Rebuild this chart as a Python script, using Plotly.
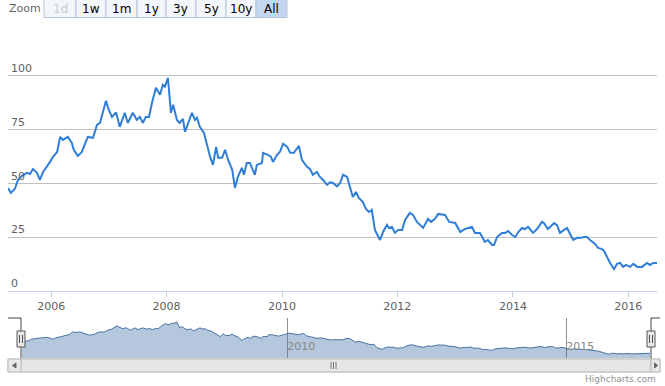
import plotly.graph_objects as go

# ---- data ----
dates = [
 "2005-04-03","2005-04-21","2005-05-16","2005-06-05","2005-06-30","2005-08-01","2005-08-20","2005-09-08",
 "2005-10-03","2005-10-22","2005-11-11","2005-12-06","2005-12-25","2006-01-13","2006-02-08","2006-02-27",
 "2006-03-16","2006-04-17","2006-05-12","2006-05-24","2006-06-19","2006-07-14","2006-08-03","2006-08-21",
 "2006-09-23","2006-10-18","2006-11-06","2006-12-14","2006-12-27","2007-01-21","2007-02-16","2007-03-11",
 "2007-04-12","2007-05-01","2007-06-02","2007-06-27","2007-07-16","2007-08-05","2007-08-23","2007-09-12",
 "2007-10-01","2007-10-26","2007-11-21","2007-12-09","2007-12-22","2008-01-10","2008-01-29","2008-02-12",
 "2008-03-07","2008-03-25","2008-04-14","2008-04-27","2008-06-10","2008-06-29","2008-07-12","2008-07-30",
 "2008-08-25","2008-09-20","2008-10-03","2008-10-21","2008-11-10","2008-11-23","2008-12-18","2009-01-06",
 "2009-01-25","2009-02-20","2009-03-09","2009-03-28","2009-04-22","2009-05-05","2009-05-23","2009-06-12",
 "2009-07-13","2009-07-26","2009-08-27","2009-09-03","2009-10-04","2009-10-23","2009-11-05","2009-12-01",
 "2009-12-19","2010-01-08","2010-02-03","2010-02-22","2010-03-17","2010-04-18","2010-05-07","2010-06-08",
 "2010-06-27","2010-07-15","2010-08-10","2010-08-29","2010-09-18","2010-10-13","2010-11-01","2010-11-20",
 "2010-12-15","2011-01-04","2011-01-22","2011-02-17","2011-03-06","2011-03-25","2011-04-14","2011-05-02",
 "2011-05-27","2011-06-16","2011-07-05","2011-07-23","2011-08-12","2011-09-13","2011-10-02","2011-10-27",
 "2011-11-09","2011-11-28","2011-12-17","2012-01-06","2012-01-31","2012-02-19","2012-03-20","2012-04-09",
 "2012-05-04","2012-06-12","2012-07-13","2012-08-01","2012-08-26","2012-09-15","2012-10-29","2012-11-24",
 "2013-01-01","2013-02-02","2013-03-04","2013-04-17","2013-05-06","2013-06-07","2013-07-08","2013-07-27",
 "2013-08-22","2013-09-04","2013-09-23","2013-10-24","2013-11-13","2013-12-02","2013-12-27","2014-01-16",
 "2014-02-04","2014-02-28","2014-03-18","2014-04-07","2014-05-08","2014-06-03","2014-07-04","2014-07-16",
 "2014-08-11","2014-09-19","2014-10-08","2014-10-26","2014-11-21","2014-12-10","2014-12-29","2015-01-18",
 "2015-02-12","2015-03-08","2015-03-26","2015-04-15","2015-05-10","2015-06-05","2015-06-24","2015-07-19",
 "2015-08-01","2015-08-20","2015-09-08","2015-10-03","2015-10-22","2015-11-11","2015-11-29","2015-12-18",
 "2016-01-13","2016-02-02","2016-02-27","2016-03-28","2016-04-29","2016-05-18","2016-06-07","2016-07-01",
]
values = [
 47.9,45.6,47.4,51.6,53.5,54.9,54.4,56.7,
 54.9,51.6,55.3,57.7,60.0,62.3,64.6,71.6,
 70.2,71.6,68.8,65.6,62.8,64.6,67.9,71.6,
 71.2,77.2,78.1,88.4,85.1,80.9,83.0,76.3,
 82.8,78.1,82.8,79.5,80.9,78.1,80.9,80.9,
 87.4,94.4,91.2,95.8,94.9,99.1,82.8,86.5,
 79.5,78.1,80.0,74.0,82.8,79.5,80.5,76.3,
 73.5,65.6,62.3,58.6,67.0,61.9,61.9,65.6,
 60.9,56.3,47.9,53.0,57.2,54.0,59.5,59.5,
 54.0,58.6,59.5,64.2,63.3,62.3,60.0,63.3,
 64.7,68.4,67.0,64.2,64.2,67.4,60.9,57.7,
 56.7,54.0,55.3,53.0,51.6,49.3,50.5,50.2,
 48.6,50.2,54.0,53.0,48.4,43.7,46.0,43.3,
 41.4,38.1,36.7,37.7,28.4,23.7,27.4,30.7,
 29.3,29.8,27.0,28.4,28.4,33.0,36.3,35.3,
 32.1,29.3,33.5,32.1,33.5,35.8,35.3,32.1,
 31.6,27.4,28.8,29.8,27.0,27.0,22.8,23.7,
 21.4,21.4,25.1,27.0,27.0,27.9,26.0,25.1,
 27.4,29.3,28.8,29.8,27.0,28.8,32.1,31.6,
 28.8,31.6,30.5,27.0,28.4,29.3,26.5,23.7,
 24.7,24.7,25.1,25.1,23.3,21.9,20.0,19.5,
 18.6,15.8,13.0,10.2,12.6,13.0,11.2,12.1,
 11.2,12.6,11.2,11.2,13.0,12.1,13.0,13.0,
]
y_ticks = [0, 25, 50, 75, 100, 125]
y_tick_labels = ["0", "25", "50", "75", "100", ""]
x_tick_dates = ["2006-01-01", "2008-01-01", "2010-01-01", "2012-01-01", "2014-01-01", "2016-01-01"]
x_tick_labels = ["2006", "2008", "2010", "2012", "2014", "2016"]
nav_tick_dates = ["2010-01-01", "2015-01-01"]
nav_tick_labels = ["2010", "2015"]
zoom_buttons = ["1d", "1w", "1m", "1y", "3y", "5y", "10y", "All"]

W, H = 665, 386
def px(x): return x / W
def py(y): return (H - y) / H

FONT = "DejaVu Sans"
LINE = "#2f7ed8"

fig = go.Figure()
fig.add_trace(go.Scatter(x=dates, y=values, mode="lines", line=dict(color=LINE, width=2),
                         xaxis="x", yaxis="y", hoverinfo="skip", showlegend=False))
fig.add_trace(go.Scatter(x=dates, y=values, mode="lines", line=dict(color="#4572A7", width=1),
                         fill="tozeroy", fillcolor="rgba(69,114,167,0.4)",
                         xaxis="x2", yaxis="y2", hoverinfo="skip", showlegend=False))

xr = [dates[0], dates[-1]]
fig.update_layout(
    width=W, height=H, autosize=False,
    margin=dict(l=0, r=0, t=0, b=0),
    paper_bgcolor="white", plot_bgcolor="white",
    font=dict(family=FONT, size=11, color="#606060"),
    showlegend=False,
    xaxis=dict(domain=[px(8), px(657)], range=xr, type="date",
               tickvals=x_tick_dates, ticktext=x_tick_labels,
               showgrid=False, zeroline=False,
               showline=True, linecolor="#C0D0E0", linewidth=1,
               ticks="outside", ticklen=5, tickcolor="#C0D0E0",
               tickfont=dict(family=FONT, size=11, color="#606060"),
               anchor="y"),
    yaxis=dict(domain=[py(291), py(22)], range=[0, 125],
               tickvals=y_ticks, ticktext=y_tick_labels,
               showgrid=True, gridcolor="#C0C0C0", gridwidth=1,
               zeroline=False, showline=False, ticks="",
               ticklabelposition="inside top",
               tickfont=dict(family=FONT, size=11, color="#606060"),
               anchor="x"),
    xaxis2=dict(domain=[px(22), px(650)], range=xr, type="date",
                tickvals=nav_tick_dates, ticktext=nav_tick_labels,
                showgrid=True, gridcolor="#909090", gridwidth=1,
                zeroline=False, showline=False, ticks="",
                ticklabelposition="inside right",
                tickfont=dict(family=FONT, size=11, color="#888888"),
                anchor="y2"),
    yaxis2=dict(domain=[py(358), py(318)], range=[0, 110],
                showgrid=False, zeroline=False, showline=False,
                showticklabels=False, ticks="", anchor="x2"),
)

shapes = []
annotations = []

# --- range selector ---
annotations.append(dict(x=px(7), y=py(9), xref="paper", yref="paper", text="Zoom",
                        showarrow=False, xanchor="left", yanchor="middle",
                        font=dict(family=FONT, size=11, color="#666666")))
edges = [44, 76, 106, 137, 166, 196, 226, 256, 287]
for i, lab in enumerate(zoom_buttons):
    x0, x1 = edges[i], edges[i + 1]
    sel = lab == "All"
    shapes.append(dict(type="rect", xref="paper", yref="paper",
                       x0=px(x0), x1=px(x1), y0=py(17.5), y1=py(-0.5),
                       fillcolor="#c3d6f0" if sel else "#f3f6fb",
                       line=dict(color="#b5c4d8", width=1), layer="above"))
    annotations.append(dict(x=px((x0 + x1) / 2), y=py(9), xref="paper", yref="paper",
                            text=lab, showarrow=False, xanchor="center", yanchor="middle",
                            font=dict(family=FONT, size=12,
                                      color="#cccccc" if lab == "1d" else "#000000")))

# --- navigator outline ---
OUT = "#444444"
shapes.append(dict(type="path", xref="paper", yref="paper",
                   path=f"M {px(8)} {py(318)} L {px(21)} {py(318)} L {px(21)} {py(372)}",
                   line=dict(color=OUT, width=1)))
shapes.append(dict(type="path", xref="paper", yref="paper",
                   path=f"M {px(660)} {py(318)} L {px(651)} {py(318)} L {px(651)} {py(372)}",
                   line=dict(color=OUT, width=1)))

# --- scrollbar ---
shapes.append(dict(type="rect", xref="paper", yref="paper", x0=px(8), x1=px(660), y0=py(372), y1=py(359),
                   fillcolor="#eeeeee", line=dict(color="#cccccc", width=1)))
shapes.append(dict(type="rect", xref="paper", yref="paper", x0=px(21), x1=px(651), y0=py(372), y1=py(359),
                   fillcolor="#e6e6e6", line=dict(color="#bbbbbb", width=1)))
shapes.append(dict(type="rect", xref="paper", yref="paper", x0=px(8), x1=px(21), y0=py(372), y1=py(359),
                   fillcolor="#e8e8e8", line=dict(color="#bbbbbb", width=1)))
shapes.append(dict(type="rect", xref="paper", yref="paper", x0=px(651), x1=px(660), y0=py(372), y1=py(359),
                   fillcolor="#e8e8e8", line=dict(color="#bbbbbb", width=1)))
shapes.append(dict(type="path", xref="paper", yref="paper",
                   path=f"M {px(16)} {py(363)} L {px(12.5)} {py(365.5)} L {px(16)} {py(368)} Z",
                   fillcolor="#666666", line=dict(color="#666666", width=1)))
shapes.append(dict(type="path", xref="paper", yref="paper",
                   path=f"M {px(654.5)} {py(363)} L {px(657.5)} {py(365.5)} L {px(654.5)} {py(368)} Z",
                   fillcolor="#666666", line=dict(color="#666666", width=1)))
for gx in (331, 333.5, 336):
    shapes.append(dict(type="line", xref="paper", yref="paper", x0=px(gx), x1=px(gx),
                       y0=py(362), y1=py(369), line=dict(color="#777777", width=1)))

# --- navigator handles ---
for hx in (21, 651):
    shapes.append(dict(type="rect", xref="paper", yref="paper", x0=px(hx - 4), x1=px(hx + 4),
                       y0=py(347), y1=py(331), fillcolor="#ebe7e8",
                       line=dict(color="#555555", width=1), layer="above"))
    for dx in (-1.5, 1.5):
        shapes.append(dict(type="line", xref="paper", yref="paper", x0=px(hx + dx), x1=px(hx + dx),
                           y0=py(335), y1=py(343), line=dict(color="#555555", width=1), layer="above"))

# --- credits ---
annotations.append(dict(x=px(658), y=py(379), xref="paper", yref="paper", text="Highcharts.com",
                        showarrow=False, xanchor="right", yanchor="middle",
                        font=dict(family=FONT, size=9, color="#909090")))

fig.update_layout(shapes=shapes, annotations=annotations)
fig.write_html("out.html", config={"displayModeBar": False},
               post_script="document.body.style.margin='0';document.body.style.overflow='hidden';")
